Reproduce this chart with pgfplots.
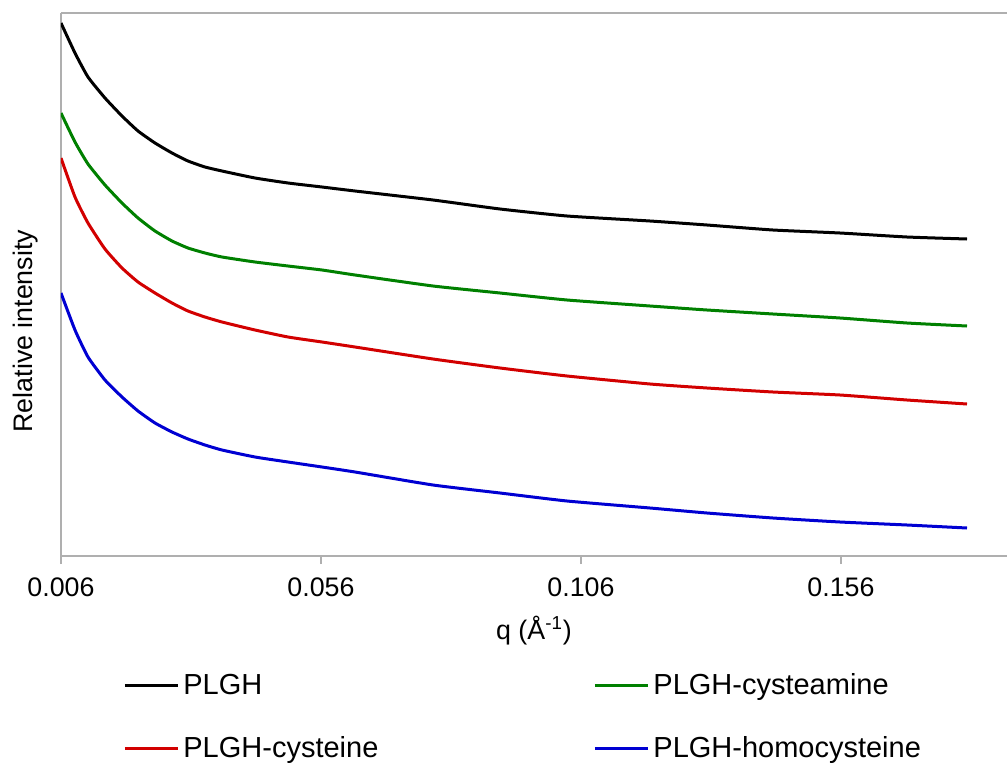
\documentclass[border=0pt]{standalone}
\usepackage{pgfplots}
\usepackage{pgfplotstable}
\pgfplotsset{compat=1.18}
\usepackage{fontspec}
\setmainfont{Liberation Sans}
\definecolor{cgreen}{RGB}{0,128,0}
\definecolor{cred}{RGB}{210,0,0}
\definecolor{cblue}{RGB}{0,0,210}
\definecolor{axgray}{RGB}{175,175,175}
\pgfplotstableread{
q        black  green  red   blue
0.00600  533    443    398   263
0.00869  503    414    359   226
0.01119  479    392    333   199
0.01446  458    371    307   176
0.01773  440    353    288   159
0.02081  425    338    274   145
0.02408  413    325    263   133
0.02735  403    315    253   124
0.03042  395    308    245   117
0.03369  389    303    239   111
0.03696  385    299    234   106
0.04331  378    294    226   99
0.04965  373    290    219   94
0.05619  369    286    214   89
0.06254  365    281    209   84
0.07754  356    270    197   71
0.09042  347    263    188   63
0.10331  340    256    180   55
0.11927  335    250    172   48
0.13023  331    246    168   43
0.14292  326    242    164   38
0.15581  323    238    161   34
0.16869  319    233    156   31
0.18023  317    230    152   28
}\datatable
\begin{document}
\begin{tikzpicture}
\path[use as bounding box] (-30.5pt,-105.5pt) rectangle (473pt,278pt);
\begin{axis}[
  scale only axis,
  width=473pt, height=271.5pt,
  xmin=0.006, xmax=0.18792,
  ymin=0, ymax=543,
  axis x line*=box, axis y line*=left,
  axis line style={draw=axgray, line width=0.7pt, -},
  xtick={0.006,0.056,0.106,0.156},
  xticklabels={0.006,0.056,0.106,0.156},
  xtick pos=left,
  tick align=outside,
  major tick length=4pt,
  every tick/.style={axgray, line width=0.6pt},
  ytick=\empty,
  ticklabel style={font=\fontsize{13.4}{16}\selectfont},
  xticklabel style={yshift=-3.5pt},
  every axis x label/.style={at={(rel axis cs:0.5,0)}, anchor=north, yshift=-26.5pt, font=\fontsize{13.4}{16}\selectfont},
  every axis y label/.style={at={(rel axis cs:-0.017,0.414)}, rotate=90, anchor=south, font=\fontsize{13.4}{16}\selectfont},
  xlabel={q (Å\textsuperscript{-1})},
  ylabel={Relative intensity},
  legend columns=2,
  legend cell align=left,
  legend style={at={(rel axis cs:0,0)}, anchor=north west, xshift=31pt, yshift=-56.5pt,
    draw=none, fill=none, font=\fontsize{14.5}{17}\selectfont,
    row sep=15.5pt, inner sep=0pt,
    /tikz/column 2/.style={column sep=105.5pt}},
  legend image code/.code={\draw[#1] (0pt,0pt) -- (26.5pt,0pt);},
  every axis plot/.append style={line width=1.5pt, smooth, tension=0.3},
]
\addplot[black] table[x=q, y=black] {\datatable};
\addlegendentry{PLGH}
\addplot[cgreen] table[x=q, y=green] {\datatable};
\addlegendentry{PLGH-cysteamine}
\addplot[cred] table[x=q, y=red] {\datatable};
\addlegendentry{PLGH-cysteine}
\addplot[cblue] table[x=q, y=blue] {\datatable};
\addlegendentry{PLGH-homocysteine}
\end{axis}
\end{tikzpicture}
\end{document}
